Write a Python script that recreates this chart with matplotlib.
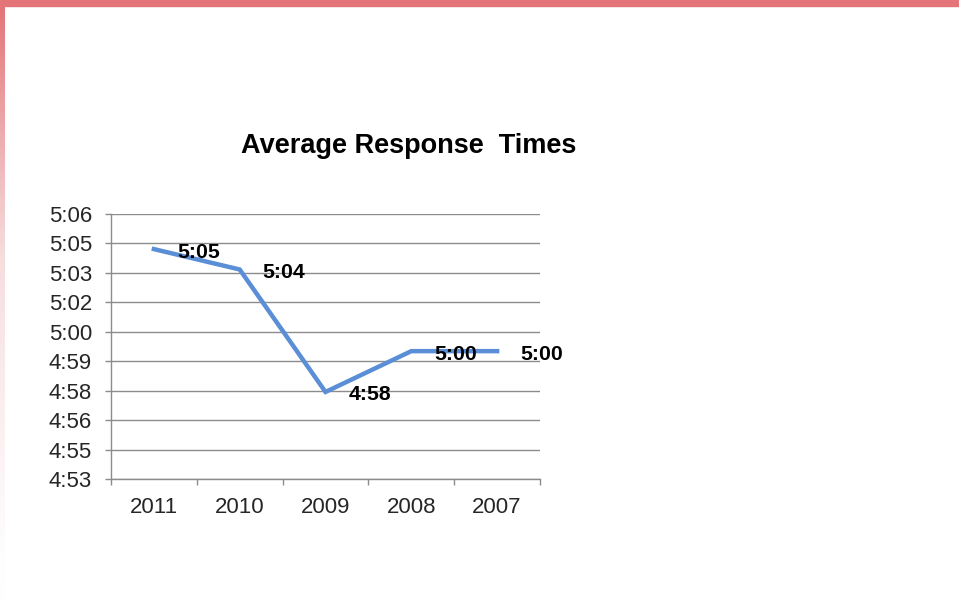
import matplotlib
matplotlib.use("Agg")
import numpy as np
import matplotlib.pyplot as plt
from matplotlib.colors import LinearSegmentedColormap

plt.rcParams["font.family"] = ["Liberation Sans", "DejaVu Sans"]

# ─── Data (average response time, seconds) ──────────────────────
years = ["2011", "2010", "2009", "2008", "2007"]
seconds = [305, 304, 298, 300, 300]

# Axis range as Excel picked it (labels are truncated to whole seconds)
y_min = 293.72
y_span = 13.0
n_steps = 9

LINE = "#5A8ED6"
GRID = "#8C8C8C"
PINK = "#E37579"


def fmt_mss(s):
    m, sec = divmod(int(np.floor(s + 1e-9)), 60)
    return f"{m}:{sec:02d}"


fig = plt.figure(figsize=(9.59, 6.12), dpi=100)

# ─── Slide border: pink top band + fading left band ─────────────
bar = fig.add_axes([0, 0, 5 / 959, 1 - 6 / 612])
fade = LinearSegmentedColormap.from_list("fade", ["#FFFFFF", "#F6DDDE", PINK])
bar.imshow(np.linspace(0, 1, 256)[:, None] ** 1.3, cmap=fade, aspect="auto",
           origin="lower", extent=[0, 1, 0, 1])
bar.axis("off")
fig.patches.append(plt.Rectangle((0, 1 - 6 / 612), 1, 6 / 612,
                                 transform=fig.transFigure, color=PINK, zorder=5))

# ─── Chart ──────────────────────────────────────────────────────
ax = fig.add_axes([111 / 959, 1 - 479.3 / 612, 429 / 959, 265.3 / 612])
x = np.arange(len(years))
ax.plot(x, seconds, color=LINE, lw=3.2, solid_joinstyle="miter", zorder=3)

for xi, v in zip(x, seconds):
    ax.annotate(fmt_mss(v), (xi, v), xytext=(23, -3), textcoords="offset pixels",
                ha="left", va="center", fontsize=15.3, fontweight="bold",
                color="black", zorder=4)

yticks = y_min + np.arange(n_steps + 1) * y_span / n_steps
ax.set_ylim(y_min, y_min + y_span)
ax.set_yticks(yticks)
ax.set_yticklabels([fmt_mss(t) for t in yticks])

ax.set_xlim(-0.5, len(years) - 0.5)
ax.set_xticks(x)
ax.set_xticklabels(years)
ax.set_xticks(np.arange(len(years) + 1) - 0.5, minor=True)

ax.tick_params(axis="y", which="major", length=4.3, width=1, color=GRID,
               labelsize=16, labelcolor="#262626", pad=9.4)
ax.tick_params(axis="x", which="major", length=0, labelsize=16,
               labelcolor="#262626", pad=12.5)
ax.tick_params(axis="x", which="minor", length=4.3, width=1, color=GRID)

ax.yaxis.grid(True, color=GRID, lw=1)
ax.set_axisbelow(True)
for side in ("top", "right"):
    ax.spines[side].set_visible(False)
for side in ("left", "bottom"):
    ax.spines[side].set_color(GRID)
    ax.spines[side].set_linewidth(1)

fig.text(408.5 / 959, 1 - 146 / 612, "Average Response  Times", ha="center",
         va="center", fontsize=19.5, fontweight="bold", color="black")

fig.savefig("out.png", dpi=100)
plt.close()
